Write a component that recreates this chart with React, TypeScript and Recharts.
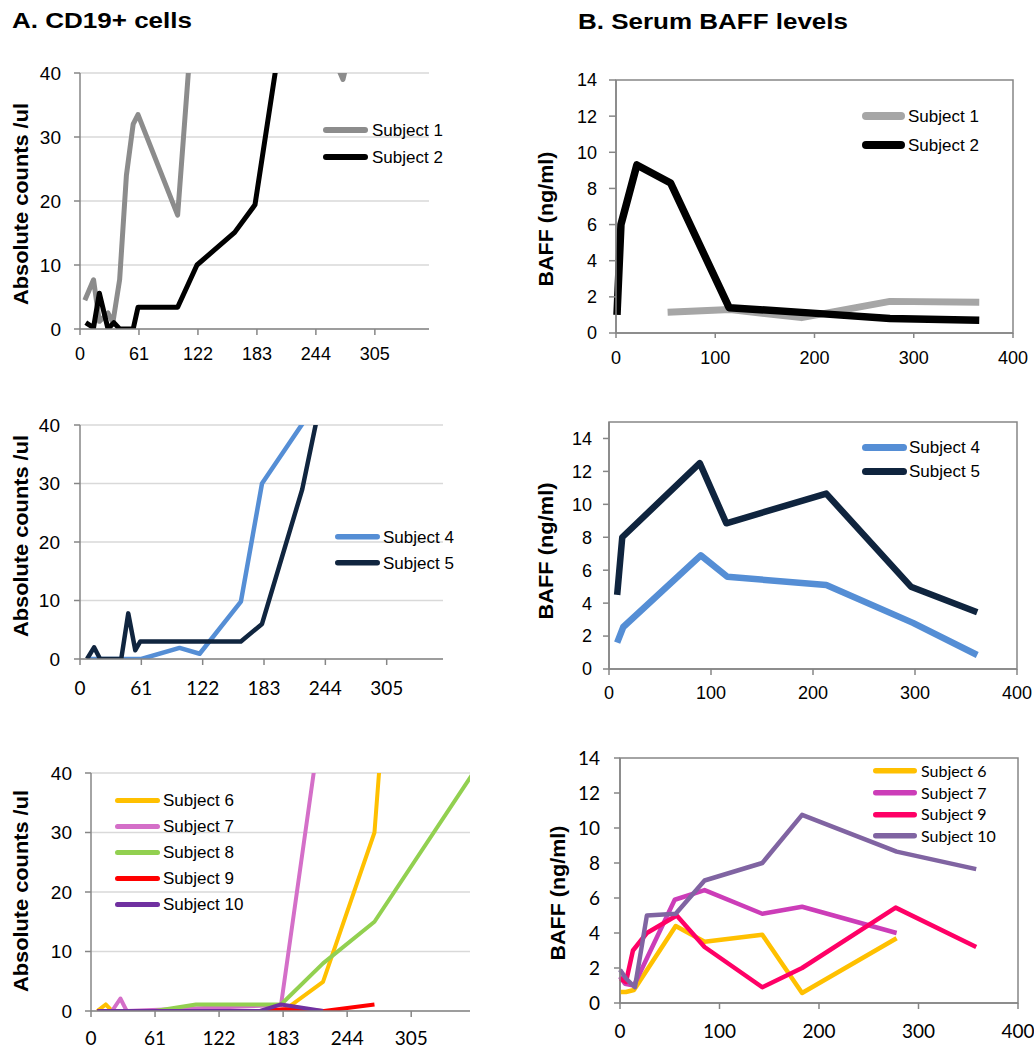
import React from 'react';
import { LineChart, Line, XAxis, YAxis, CartesianGrid, Legend, ReferenceArea } from 'recharts';

// ---------- Texts ----------
const titleA = 'A. CD19+ cells';
const titleB = 'B. Serum BAFF levels';
const yLabelA = 'Absolute counts /ul';
const yLabelB = 'BAFF (ng/ml)';

// ---------- Panel A: CD19+ cells ----------
const cdTicksX = [0, 61, 122, 183, 244, 305];
const cdTicksY = [0, 10, 20, 30, 40];

const cdS1Days = [5, 14, 20, 29, 34, 41, 48, 55, 60, 101, 122, 183, 272, 305];
const cdS1Counts = [4.5, 7.7, 1.2, 2.5, 1.0, 7.7, 24, 32, 33.5, 17.8, 60, 70, 39, 60];
const cdS2Days = [6, 14, 20, 29, 35, 41, 55, 60, 101, 121, 160, 181, 214];
const cdS2Counts = [1.0, 0.2, 5.6, 0, 1.0, 0, 0, 3.4, 3.4, 10, 15.1, 19.4, 52];

const cdS4Days = [10, 61, 99, 119, 160, 181, 244];
const cdS4Counts = [0, 0, 1.9, 0.9, 9.8, 30, 46];
const cdS5Days = [7, 14, 20, 41, 48, 55, 60, 160, 181, 221, 244];
const cdS5Counts = [0, 2, 0, 0, 7.8, 1.5, 3, 3, 6, 29, 48];

const cdS6Days = [6, 14, 20, 183, 221, 270, 283];
const cdS6Counts = [0, 1.1, 0, 0, 4.9, 30, 60];
const cdS7Days = [20, 28, 34, 181, 244];
const cdS7Counts = [0, 2.1, 0, 1, 80];
const cdS8Days = [6, 61, 100, 181, 221, 270, 366];
const cdS8Counts = [0, 0, 1.1, 1.1, 8, 15, 40.5];
const cdS9Days = [6, 161, 183, 222, 270];
const cdS9Counts = [0, 0, 0.3, 0, 1.1];
const cdS10Days = [6, 161, 181, 221];
const cdS10Counts = [0, 0, 1.1, 0];

// ---------- Panel B: Serum BAFF ----------
const baffTicksX = [0, 100, 200, 300, 400];
const baffTicksY = [0, 2, 4, 6, 8, 10, 12, 14];

const bS1Days = [52, 115, 187, 276, 366];
const bS1Values = [1.15, 1.3, 0.85, 1.75, 1.7];
const bS2Days = [1, 5, 21, 55, 114, 198, 276, 366];
const bS2Values = [1.0, 6.0, 9.3, 8.3, 1.4, 1.1, 0.8, 0.7];

const bS4Days = [8, 14, 90, 116, 213, 298, 361];
const bS4Values = [1.6, 2.55, 6.9, 5.6, 5.1, 2.8, 0.85];
const bS5Days = [8, 13, 89, 115, 213, 296, 361];
const bS5Values = [4.5, 8.0, 12.5, 8.85, 10.65, 5.0, 3.45];

const bS6Days = [0, 6, 14, 56, 85, 143, 183, 278];
const bS6Values = [0.63, 0.63, 0.74, 4.4, 3.5, 3.9, 0.57, 3.7];
const bS7Days = [0, 5, 14, 55, 85, 143, 183, 278];
const bS7Values = [1.5, 1.1, 1.0, 5.9, 6.45, 5.1, 5.5, 4.0];
const bS9Days = [0, 6, 13, 27, 57, 85, 143, 183, 277, 358];
const bS9Values = [1.4, 1.2, 3.0, 4.0, 5.0, 3.2, 0.9, 2.0, 5.45, 3.2];
const bS10Days = [0, 6, 15, 27, 56, 85, 143, 183, 278, 358];
const bS10Values = [1.9, 1.4, 0.9, 5.0, 5.1, 7.0, 8.0, 10.75, 8.65, 7.65];

type Pt = { day: number; value: number };
const pts = (days: number[], vals: number[]): Pt[] => days.map((d, i) => ({ day: d, value: vals[i] }));

type Series = { name: string; color: string; width: number; data: Pt[] };

type LegendCfg = { x: number; y: number; rowH: number; lineLen: number; lineW: number; fontSize: number; font: string; gap: number };

type PanelProps = {
  plot: { l: number; r: number; t: number; b: number };
  mr: number;
  series: Series[];
  xDomain: [number, number];
  xTicks: number[];
  yDomain: [number, number];
  yTicks: number[];
  grid: boolean;
  box: boolean;
  clip: boolean;
  xFont: string;
  yFont: string;
  xFontSize: number;
  yFontSize: number;
  xTickSize: number;
  yTickSize: number;
  xTickMargin: number;
  yTickMargin: number;
  legend: LegendCfg;
};

const AX = '#868686';

function Panel(p: PanelProps) {
  const yw = 70;
  const mt = 20;
  const xh = 45;
  const left = p.plot.l - yw;
  const top = p.plot.t - mt;
  const width = p.plot.r + p.mr - left;
  const height = p.plot.b + xh - top;
  const lg = p.legend;
  const names = p.series.map((s) => s.name);

  const renderLegend = (props: any) => {
    const items = [...(props.payload || [])].sort(
      (a: any, b: any) => names.indexOf(a.value) - names.indexOf(b.value)
    );
    return (
      <div>
        {items.map((it: any) => (
          <div key={it.value} style={{ display: 'flex', alignItems: 'center', height: lg.rowH, whiteSpace: 'nowrap' }}>
            <svg width={lg.lineLen} height={lg.lineW + 2} style={{ display: 'block' }}>
              <line
                x1={lg.lineW / 2}
                x2={lg.lineLen - lg.lineW / 2}
                y1={(lg.lineW + 2) / 2}
                y2={(lg.lineW + 2) / 2}
                stroke={it.color}
                strokeWidth={lg.lineW}
                strokeLinecap="round"
              />
            </svg>
            <span style={{ marginLeft: lg.gap, fontSize: lg.fontSize, fontFamily: lg.font, color: '#000', lineHeight: 1 }}>
              {it.value}
            </span>
          </div>
        ))}
      </div>
    );
  };

  return (
    <div style={{ position: 'absolute', left, top }}>
      <LineChart width={width} height={height} margin={{ top: mt, right: p.mr, bottom: 0, left: 0 }}>
        {p.grid && <CartesianGrid vertical={false} stroke="#D9D9D9" strokeWidth={1.5} />}
        <XAxis
          type="number"
          dataKey="day"
          domain={p.xDomain}
          ticks={p.xTicks}
          interval={0}
          allowDataOverflow={p.clip}
          height={xh}
          tickSize={p.xTickSize}
          tickMargin={p.xTickMargin}
          tick={{ fontSize: p.xFontSize, fontFamily: p.xFont, fill: '#000' }}
          tickLine={{ stroke: AX, strokeWidth: 1.5 }}
          axisLine={{ stroke: AX, strokeWidth: 1.5 }}
        />
        <YAxis
          type="number"
          domain={p.yDomain}
          ticks={p.yTicks}
          interval={0}
          allowDataOverflow={p.clip}
          width={yw}
          tickSize={p.yTickSize}
          tickMargin={p.yTickMargin}
          tick={{ fontSize: p.yFontSize, fontFamily: p.yFont, fill: '#000' }}
          tickLine={{ stroke: AX, strokeWidth: 1.5 }}
          axisLine={{ stroke: AX, strokeWidth: 1.5 }}
        />
        {p.box && (
          <ReferenceArea
            x1={p.xDomain[0]}
            x2={p.xDomain[1]}
            y1={p.yDomain[0]}
            y2={p.yDomain[1]}
            fill="none"
            fillOpacity={0}
            stroke={AX}
            strokeWidth={1.5}
            ifOverflow="visible"
          />
        )}
        {p.series.map((s) => (
          <Line
            key={s.name}
            type="linear"
            data={s.data}
            dataKey="value"
            name={s.name}
            stroke={s.color}
            strokeWidth={s.width}
            strokeLinejoin="round"
            dot={false}
            activeDot={false}
            isAnimationActive={false}
          />
        ))}
        <Legend
          layout="vertical"
          align="center"
          verticalAlign="middle"
          itemSorter={(item: any) => names.indexOf(item.value)}
          content={renderLegend}
          wrapperStyle={{ left: lg.x - left, top: lg.y - lg.rowH / 2 - top, width: 'auto' }}
        />
      </LineChart>
    </div>
  );
}

const ARIAL = 'Liberation Sans, Arial, sans-serif';
const CALIBRI = 'Lato, Carlito, sans-serif';

const seriesA1: Series[] = [
  { name: 'Subject 1', color: '#8C8C8C', width: 5, data: pts(cdS1Days, cdS1Counts) },
  { name: 'Subject 2', color: '#000000', width: 5, data: pts(cdS2Days, cdS2Counts) },
];
const seriesA2: Series[] = [
  { name: 'Subject 4', color: '#558ED5', width: 4.5, data: pts(cdS4Days, cdS4Counts) },
  { name: 'Subject 5', color: '#10253F', width: 4.5, data: pts(cdS5Days, cdS5Counts) },
];
const seriesA3: Series[] = [
  { name: 'Subject 6', color: '#FFC000', width: 4, data: pts(cdS6Days, cdS6Counts) },
  { name: 'Subject 7', color: '#D46FC8', width: 4, data: pts(cdS7Days, cdS7Counts) },
  { name: 'Subject 8', color: '#92D050', width: 4, data: pts(cdS8Days, cdS8Counts) },
  { name: 'Subject 9', color: '#FF0000', width: 4, data: pts(cdS9Days, cdS9Counts) },
  { name: 'Subject 10', color: '#7030A0', width: 4, data: pts(cdS10Days, cdS10Counts) },
];
const seriesB1: Series[] = [
  { name: 'Subject 1', color: '#A6A6A6', width: 7, data: pts(bS1Days, bS1Values) },
  { name: 'Subject 2', color: '#000000', width: 7.5, data: pts(bS2Days, bS2Values) },
];
const seriesB2: Series[] = [
  { name: 'Subject 4', color: '#558ED5', width: 6.5, data: pts(bS4Days, bS4Values) },
  { name: 'Subject 5', color: '#0F243E', width: 6.5, data: pts(bS5Days, bS5Values) },
];
const seriesB3: Series[] = [
  { name: 'Subject 6', color: '#FFC000', width: 4.5, data: pts(bS6Days, bS6Values) },
  { name: 'Subject 7', color: '#CC3DB8', width: 4.5, data: pts(bS7Days, bS7Values) },
  { name: 'Subject 9', color: '#FF0066', width: 4.5, data: pts(bS9Days, bS9Values) },
  { name: 'Subject 10', color: '#8064A2', width: 4.5, data: pts(bS10Days, bS10Values) },
];

const common = { xTickSize: 6, yTickSize: 6 };

export default function App() {
  const yLabels = [
    { text: yLabelA, x: 20, y: 204, len: 202 },
    { text: yLabelA, x: 20, y: 536, len: 202 },
    { text: yLabelA, x: 20, y: 891, len: 202 },
    { text: yLabelB, x: 545, y: 219, len: 135 },
    { text: yLabelB, x: 545, y: 551, len: 137 },
    { text: yLabelB, x: 557, y: 893, len: 135 },
  ];
  return (
    <div style={{ position: 'absolute', left: 0, top: 0, width: 1035, height: 1048, background: '#fff', fontFamily: ARIAL }}>
      <Panel
        {...common}
        plot={{ l: 80, r: 429, t: 73, b: 329 }}
        mr={12}
        series={seriesA1}
        xDomain={[0, 361]}
        xTicks={cdTicksX}
        yDomain={[0, 40]}
        yTicks={cdTicksY}
        grid
        box={false}
        clip
        xFont={ARIAL}
        yFont={ARIAL}
        xFontSize={18}
        yFontSize={19}
        xTickMargin={12}
        yTickMargin={13}
        legend={{ x: 323, y: 130, rowH: 27, lineLen: 45, lineW: 6, fontSize: 17, font: ARIAL, gap: 4 }}
      />
      <Panel
        {...common}
        plot={{ l: 80, r: 443, t: 425, b: 659 }}
        mr={12}
        series={seriesA2}
        xDomain={[0, 361]}
        xTicks={cdTicksX}
        yDomain={[0, 40]}
        yTicks={cdTicksY}
        grid
        box={false}
        clip
        xFont={CALIBRI}
        yFont={ARIAL}
        xFontSize={19}
        yFontSize={19}
        xTickMargin={17}
        yTickMargin={14}
        legend={{ x: 335, y: 537, rowH: 26, lineLen: 45, lineW: 5.5, fontSize: 17, font: ARIAL, gap: 3 }}
      />
      <Panel
        {...common}
        plot={{ l: 91, r: 470, t: 773, b: 1011 }}
        mr={12}
        series={seriesA3}
        xDomain={[0, 361]}
        xTicks={cdTicksX}
        yDomain={[0, 40]}
        yTicks={cdTicksY}
        grid
        box={false}
        clip
        xFont={CALIBRI}
        yFont={ARIAL}
        xFontSize={19}
        yFontSize={19}
        xTickMargin={15}
        yTickMargin={13}
        legend={{ x: 115, y: 800, rowH: 26, lineLen: 45, lineW: 5, fontSize: 17, font: ARIAL, gap: 3 }}
      />
      <Panel
        plot={{ l: 616, r: 1013, t: 80, b: 333 }}
        mr={20}
        series={seriesB1}
        xDomain={[0, 400]}
        xTicks={baffTicksX}
        yDomain={[0, 14]}
        yTicks={baffTicksY}
        grid={false}
        box
        clip={false}
        xFont={ARIAL}
        yFont={ARIAL}
        xFontSize={18}
        yFontSize={18}
        xTickSize={5}
        yTickSize={7}
        xTickMargin={13}
        yTickMargin={12}
        legend={{ x: 862, y: 116, rowH: 29, lineLen: 43, lineW: 8, fontSize: 17, font: ARIAL, gap: 3 }}
      />
      <Panel
        plot={{ l: 609, r: 1017, t: 422, b: 669 }}
        mr={17}
        series={seriesB2}
        xDomain={[0, 400]}
        xTicks={baffTicksX}
        yDomain={[0, 15]}
        yTicks={baffTicksY}
        grid={false}
        box
        clip={false}
        xFont={ARIAL}
        yFont={ARIAL}
        xFontSize={18}
        yFontSize={18}
        xTickSize={6}
        yTickSize={6}
        xTickMargin={11}
        yTickMargin={11}
        legend={{ x: 862, y: 447, rowH: 24, lineLen: 45, lineW: 7, fontSize: 17, font: ARIAL, gap: 2 }}
      />
      <Panel
        plot={{ l: 620, r: 1018, t: 758, b: 1003 }}
        mr={16}
        series={seriesB3}
        xDomain={[0, 400]}
        xTicks={baffTicksX}
        yDomain={[0, 14]}
        yTicks={baffTicksY}
        grid={false}
        box
        clip={false}
        xFont={CALIBRI}
        yFont={CALIBRI}
        xFontSize={19}
        yFontSize={19}
        xTickSize={6}
        yTickSize={6}
        xTickMargin={16}
        yTickMargin={14}
        legend={{ x: 873, y: 771, rowH: 21.7, lineLen: 44, lineW: 5.5, fontSize: 16, font: CALIBRI, gap: 4 }}
      />
      <svg width={1035} height={1048} style={{ position: 'absolute', left: 0, top: 0, pointerEvents: 'none' }}>
        <text x={12} y={28} fontSize={22} fontWeight="bold" fontFamily={ARIAL} textLength={180} lengthAdjust="spacingAndGlyphs" fill="#000">
          {titleA}
        </text>
        <text x={578} y={29} fontSize={22} fontWeight="bold" fontFamily={ARIAL} textLength={270} lengthAdjust="spacingAndGlyphs" fill="#000">
          {titleB}
        </text>
        {yLabels.map((l, i) => (
          <text
            key={i}
            transform={`translate(${l.x},${l.y}) rotate(-90)`}
            textAnchor="middle"
            dominantBaseline="central"
            fontSize={21}
            fontWeight="bold"
            fontFamily={ARIAL}
            textLength={l.len}
            lengthAdjust="spacingAndGlyphs"
            fill="#000"
          >
            {l.text}
          </text>
        ))}
      </svg>
    </div>
  );
}
